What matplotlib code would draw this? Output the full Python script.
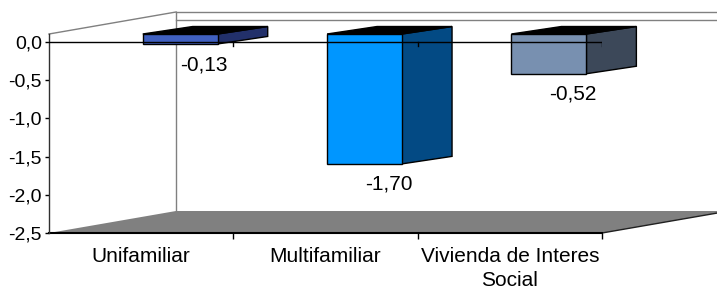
import matplotlib.pyplot as plt
from matplotlib.patches import Polygon

plt.rcParams['font.family'] = ['Liberation Sans', 'DejaVu Sans']

# datos
categorias = ['Unifamiliar', 'Multifamiliar', 'Vivienda de Interes\nSocial']
valores = [-0.13, -1.70, -0.52]
color_frente = ['#4060C0', '#0096FF', '#7890B0']
color_lado = ['#22306A', '#034A84', '#3C4859']
y_ticks = [0.0, -0.5, -1.0, -1.5, -2.0, -2.5]

# geometria del efecto 3D (en unidades de datos)
ymin, ymax = -2.5, 0.105
pared_dx, pared_dy = 0.689, 0.288     # profundidad de las paredes
off_dx, off_dy = 0.212, 0.105         # plano frontal de las barras
prof_dx, prof_dy = 0.271, 0.098       # profundidad de la barra
ancho = 0.407

fig = plt.figure(figsize=(7.17, 2.91), dpi=100)
ax = fig.add_axes([49 / 717, 58 / 291, 553 / 717, 199 / 291])
ax.set_xlim(-0.5, 2.5)
ax.set_ylim(ymin, ymax)

gris = '#808080'
# piso
piso = Polygon([(-0.5, ymin), (-0.5 + pared_dx, ymin + pared_dy),
                (2.5 + pared_dx, ymin + pared_dy), (2.5, ymin)],
               closed=True, facecolor=gris, edgecolor='none', clip_on=False, zorder=1)
ax.add_patch(piso)
ax.plot([2.5, 2.5 + pared_dx], [ymin, ymin + pared_dy], color='#202020', lw=1,
        clip_on=False, zorder=2)

# paredes
xb = -0.5 + pared_dx
ax.plot([-0.5, xb], [ymax, ymax + pared_dy], color=gris, lw=1, clip_on=False, zorder=1)
ax.plot([xb, 2.5 + pared_dx], [ymax + pared_dy] * 2, color=gris, lw=1, clip_on=False, zorder=1)
ax.plot([xb, 2.5 + pared_dx], [pared_dy] * 2, color=gris, lw=1, clip_on=False, zorder=1)
ax.plot([xb, xb], [ymin + pared_dy, ymax + pared_dy], color=gris, lw=1, clip_on=False, zorder=1)

# barras
for i, v in enumerate(valores):
    x0 = i + off_dx - ancho / 2
    x1 = x0 + ancho
    y0 = off_dy
    y1 = v + off_dy
    frente = Polygon([(x0, y0), (x1, y0), (x1, y1), (x0, y1)], closed=True,
                     facecolor=color_frente[i], edgecolor='black', lw=1,
                     clip_on=False, zorder=3)
    tapa = Polygon([(x0, y0), (x1, y0), (x1 + prof_dx, y0 + prof_dy),
                    (x0 + prof_dx, y0 + prof_dy)], closed=True,
                   facecolor='black', edgecolor='black', lw=1, clip_on=False, zorder=3)
    lado = Polygon([(x1, y0), (x1 + prof_dx, y0 + prof_dy),
                    (x1 + prof_dx, y1 + prof_dy), (x1, y1)], closed=True,
                   facecolor=color_lado[i], edgecolor='black', lw=1,
                   clip_on=False, zorder=3)
    for p in (lado, tapa, frente):
        ax.add_patch(p)
    etiqueta = f'{v:.2f}'.replace('.', ',')
    ax.text(i + off_dx + 0.13, y1 - 0.27, etiqueta, ha='center', va='center',
            fontsize=15, zorder=5)

# linea de cero con marcas
ax.plot([-0.5, 2.5], [0, 0], color='black', lw=1, zorder=4)
for xm in [0.5, 1.5, 2.5]:
    ax.plot([xm, xm], [0, -0.05], color='black', lw=1, zorder=4)

# ejes
for s in ['top', 'right']:
    ax.spines[s].set_visible(False)
ax.spines['left'].set_color('#303030')
ax.spines['left'].set_linewidth(1)
ax.spines['bottom'].set_color('black')
ax.spines['bottom'].set_linewidth(1.5)
ax.spines['bottom'].set_zorder(2)
ax.set_facecolor('none')

ax.set_yticks(y_ticks)
ax.set_yticklabels([f'{t:.1f}'.replace('.', ',') for t in y_ticks], fontsize=14)
ax.tick_params(axis='y', length=3, width=1, pad=2, color='black')

ax.set_xticks(range(len(categorias)))
ax.set_xticklabels(categorias, fontsize=15, linespacing=1.32, va='top')
ax.tick_params(axis='x', which='major', length=0, pad=10)
ax.set_xticks([0.5, 1.5, 2.5], minor=True)
ax.tick_params(axis='x', which='minor', length=4, width=1, direction='out')

fig.savefig('out.png', dpi=100)
